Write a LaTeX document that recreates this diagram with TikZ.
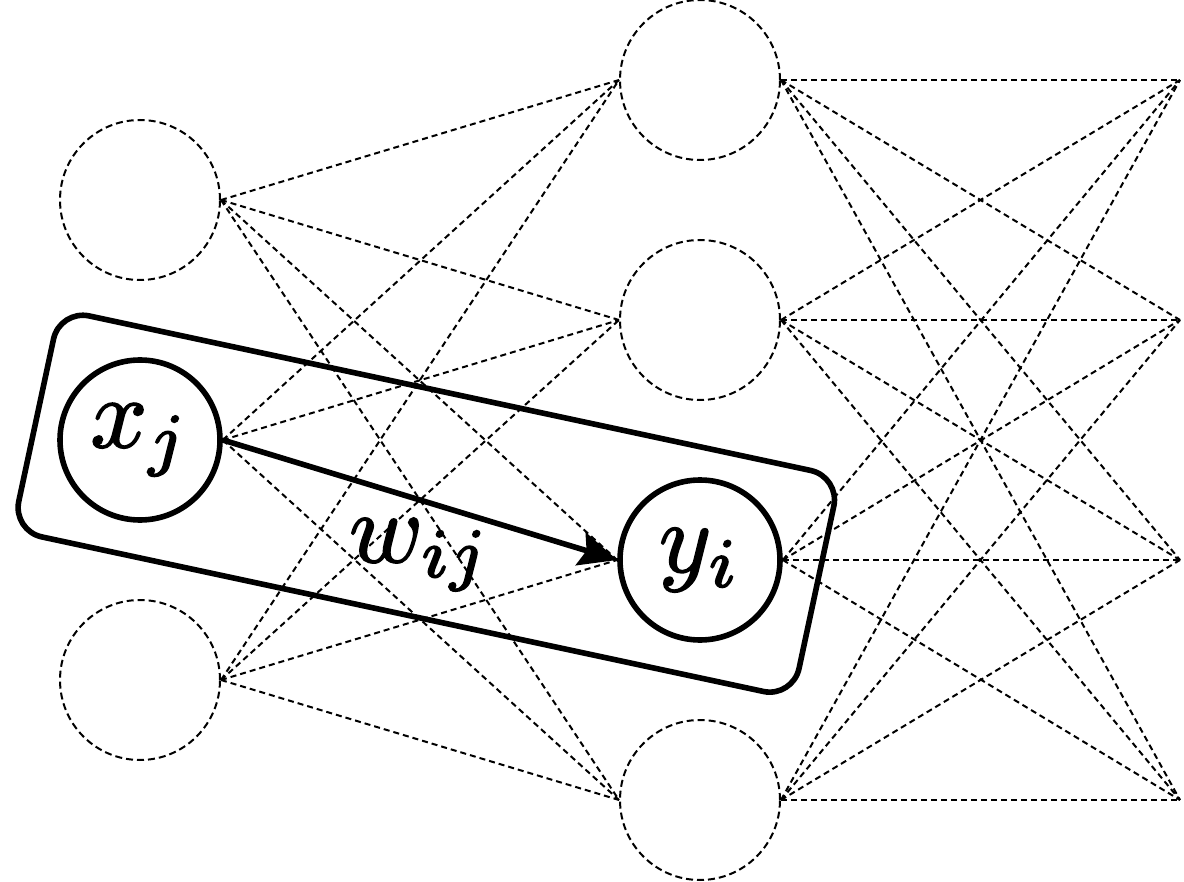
\documentclass[tikz,border=0pt]{standalone}
\usepackage{graphicx}
\usetikzlibrary{arrows.meta}
\newcommand{\hugemathlabel}[1]{\special{pdf:literal direct 2 Tr 0.16 w}\scalebox{5.0}{$#1$}\special{pdf:literal direct 0 Tr}}
\begin{document}
\begin{tikzpicture}[x=0.5pt,y=-0.5pt,
  neuron/.style={circle, minimum size=80pt, inner sep=0pt, draw, line width=1pt, dash pattern=on 3.5pt off 2pt},
  active/.style={circle, minimum size=80pt, inner sep=0pt, draw, line width=2.8pt},
  conn/.style={line width=1pt, dash pattern=on 3pt off 2pt},
  thickline/.style={line width=2.8pt},
  biglabel/.style={inner sep=0pt}]
\useasboundingbox (0,0) rectangle (1184,882);
% layer nodes
\node[neuron] (l1) at (140,200) {};
\node[active] (l2) at (140,440) {\hugemathlabel{x_j}};
\node[neuron] (l3) at (140,680) {};
\node[neuron] (m1) at (700,80) {};
\node[neuron] (m2) at (700,320) {};
\node[active] (m3) at (700,560) {\hugemathlabel{y_i}};
\node[neuron] (m4) at (700,800) {};
\coordinate (r1) at (1180,80);
\coordinate (r2) at (1180,320);
\coordinate (r3) at (1180,560);
\coordinate (r4) at (1180,800);
% dashed connections
\foreach \a/\b in {1/1,1/2,1/3,1/4,2/1,2/2,2/4,3/1,3/2,3/3,3/4}
  \draw[conn] (l\a.east) -- (m\b.west);
\foreach \a in {1,2,3,4}
  \foreach \b in {1,2,3,4}
    \draw[conn] (m\a.east) -- (r\b);
% highlighted weight
\draw[thickline, -{Stealth[length=19pt, width=17pt, inset=3pt]}] (l2.east) -- (m3.west);
\node[biglabel, anchor=base] (w) at (420,562) {\hugemathlabel{w_{ij}}};
% rounded box
\draw[thickline, rounded corners=15pt, shift={(426.3,503.7)}, rotate=-12.09]
  (-399,-113) -- (399,-113) -- (399,113) -- (-399,113) -- cycle;
\end{tikzpicture}
\end{document}
